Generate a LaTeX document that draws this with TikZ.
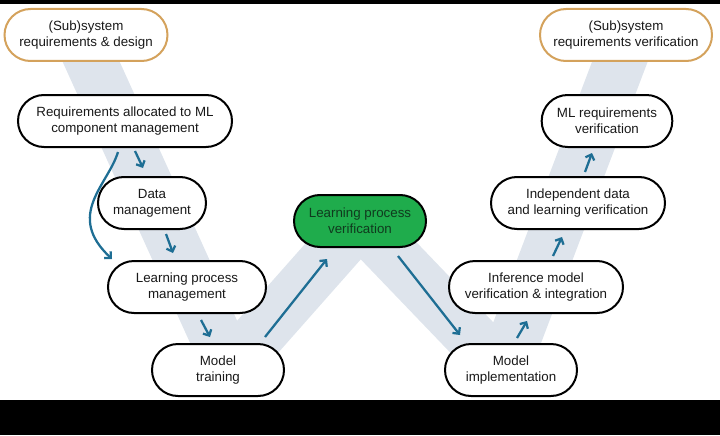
\documentclass[tikz,border=0pt]{standalone}
\usepackage{fontspec}
\setmainfont{Liberation Sans}
\usetikzlibrary{arrows.meta}
\definecolor{vgrey}{RGB}{222,228,236}
\definecolor{flowblue}{RGB}{30,110,148}
\definecolor{sysorange}{RGB}{212,162,92}
\definecolor{lpvgreen}{RGB}{31,172,76}
\definecolor{lpvtext}{RGB}{16,58,30}
\tikzset{
  >={Straight Barb[length=3.5pt,width=7pt]},
  block/.style={draw=black,line width=1.5pt,fill=white,rounded corners=19.5pt,
    minimum height=39pt,align=center,text=black!90,
    font=\fontsize{10}{12}\selectfont},
  sysblock/.style={block,draw=sysorange},
  lpvblock/.style={block,fill=lpvgreen,text=lpvtext},
  flow/.style={->,draw=flowblue,line width=1.7pt},
  vband/.style={draw=vgrey,line width=39pt,line join=round}
}

\begin{document}
\begin{tikzpicture}[x=7.5pt,y=-7.5pt]
  \useasboundingbox (0,0) rectangle (72,43.5);
  \draw[vband] (7.9,3.5) -- (23.0,36.8) -- (36.0,22.1) -- (50.3,37.0) -- (63.0,3.5);
  % left leg
  \node (sysreq) at (8.6,3.5)  [sysblock,minimum width=122.25pt] {(Sub)system\\requirements \& design};
  \node (mlreq)  at (12.5,12.1) [block,minimum width=160.5pt] {Requirements allocated to ML\\component management};
  \node (data)   at (15.2,20.3) [block,minimum width=81pt] {Data\\management};
  \node (lpm)    at (18.7,28.7) [block,minimum width=118.5pt] {Learning process\\management};
  \node (train)  at (21.8,37.0) [block,minimum width=99pt] {Model\\training};
  \node (lpv)    at (36.0,22.1) [lpvblock,minimum width=99pt] {Learning process\\verification};
  % right leg
  \node (impl)   at (51.1,37.0) [block,minimum width=99pt] {Model\\implementation};
  \node (infer)  at (53.6,28.7) [block,minimum width=130.5pt] {Inference model\\verification \& integration};
  \node (indep)  at (57.8,20.3) [block,minimum width=130.5pt] {Independent data\\and learning verification};
  \node (mlver)  at (60.7,12.1) [block,minimum width=98pt] {ML requirements\\verification};
  \node (sysver) at (62.6,3.5)  [sysblock,minimum width=129pt] {(Sub)system\\requirements verification};
  \draw[flow] ([shift={(1.0,0.3)}]mlreq.south) -- ([shift={(-0.9,-0.8)}]data.north);
  \draw[flow] ([shift={(-0.7,0.4)}]mlreq.south) .. controls +(-1.0,3.3) and +(-4.7,-4.4) .. ([shift={(0.5,-0.1)}]lpm.north west);
  \draw[flow] ([shift={(1.4,0.4)}]data.south) -- ([shift={(-1.4,-0.7)}]lpm.north);
  \draw[flow] ([shift={(1.4,0.6)}]lpm.south) -- ([shift={(-0.8,-0.6)}]train.north);
  \draw[flow] ([shift={(4.7,-0.6)}]train.north) -- ([shift={(-3.3,1.1)}]lpv.south);
  \draw[flow] ([shift={(3.8,0.8)}]lpv.south) -- ([shift={(-5.1,-0.8)}]impl.north);
  \draw[flow] ([shift={(0.6,-0.5)}]impl.north) -- ([shift={(-0.9,0.7)}]infer.south);
  \draw[flow] ([shift={(1.7,-0.4)}]infer.north) -- ([shift={(-1.6,0.7)}]indep.south);
  \draw[flow] ([shift={(0.7,-0.4)}]indep.north) -- ([shift={(-1.5,0.5)}]mlver.south);
  % black bands
  \fill[black] (0,0) rectangle (72,0.4);
  \fill[black] (0,40.0) rectangle (72,43.5);
\end{tikzpicture}
\end{document}
